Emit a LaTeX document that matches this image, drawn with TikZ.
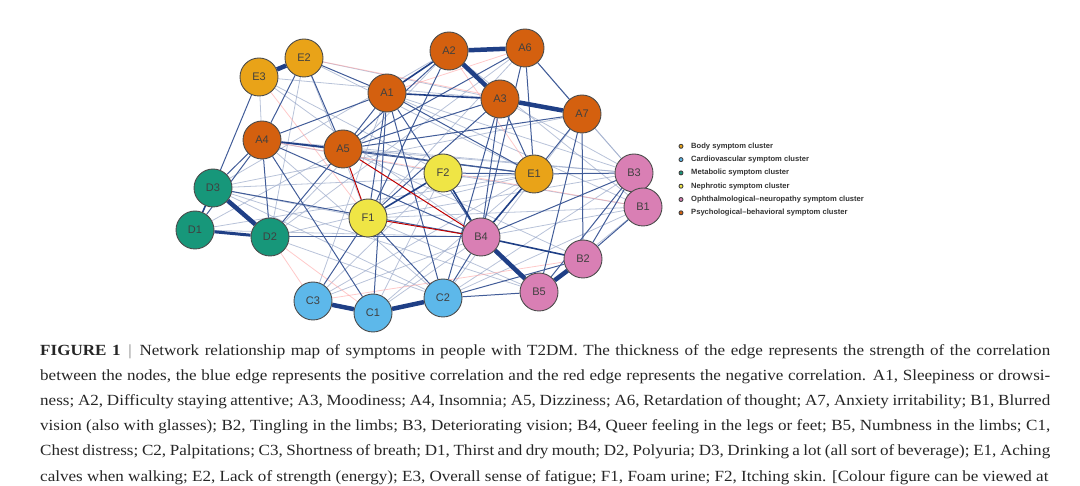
\documentclass[tikz,border=0pt]{standalone}
\usepackage{fontspec}
\setmainfont{Liberation Serif}
\newfontfamily\lsans{Liberation Sans}
\usetikzlibrary{backgrounds}
\definecolor{cA}{HTML}{D4600F}
\definecolor{cB}{HTML}{D97FB4}
\definecolor{cC}{HTML}{5DB8EA}
\definecolor{cD}{HTML}{17977A}
\definecolor{cE}{HTML}{E9A318}
\definecolor{cF}{HTML}{EFE545}
\definecolor{eb}{HTML}{1F3F86}
\tikzset{
 sym/.style={circle,draw=black!70,line width=0.9pt,minimum size=38pt,inner sep=0pt,font=\lsans\fontsize{11}{11}\selectfont,text=black!75},
 thick edge/.style={draw=eb,line width=4.5pt},
 mid edge/.style={draw=eb,line width=1.6pt},
 med edge/.style={draw=eb!85,line width=1pt},
 lt edge/.style={draw=eb!45,line width=0.8pt,opacity=0.7},
 neg edge/.style={draw=red!75!black,line width=1pt},
 ltneg edge/.style={draw=red!35,line width=0.8pt,opacity=0.6},
 leg/.style={anchor=west,font=\lsans\bfseries\fontsize{7.6}{8}\selectfont,text=black!80,inner sep=0pt},
 dot/.style={circle,draw=black!75,line width=0.9pt,minimum size=4pt,inner sep=0pt}
}
\begin{document}
\begin{tikzpicture}[x=1pt,y=-1pt]
\useasboundingbox (0,0) rectangle (1080,486);
\node[sym,fill=cE] (E3) at (259,77) {E3};
\node[sym,fill=cE] (E2) at (304,58) {E2};
\node[sym,fill=cA] (A1) at (387,93) {A1};
\node[sym,fill=cA] (A2) at (449,51) {A2};
\node[sym,fill=cA] (A6) at (525,48) {A6};
\node[sym,fill=cA] (A3) at (500,99) {A3};
\node[sym,fill=cA] (A7) at (582,114) {A7};
\node[sym,fill=cA] (A4) at (262,140) {A4};
\node[sym,fill=cA] (A5) at (343,149) {A5};
\node[sym,fill=cF] (F2) at (443,173) {F2};
\node[sym,fill=cE] (E1) at (534,174) {E1};
\node[sym,fill=cD] (D3) at (213,188) {D3};
\node[sym,fill=cD] (D1) at (195,230) {D1};
\node[sym,fill=cD] (D2) at (270,237) {D2};
\node[sym,fill=cF] (F1) at (368,218) {F1};
\node[sym,fill=cB] (B4) at (481,237) {B4};
\node[sym,fill=cB] (B3) at (634,173) {B3};
\node[sym,fill=cB] (B1) at (643,207) {B1};
\node[sym,fill=cB] (B2) at (583,259) {B2};
\node[sym,fill=cB] (B5) at (539,292) {B5};
\node[sym,fill=cC] (C3) at (313,301) {C3};
\node[sym,fill=cC] (C1) at (373,313) {C1};
\node[sym,fill=cC] (C2) at (443,298) {C2};
\begin{scope}[on background layer]
\foreach \a/\b in {E3/A4,E3/A3,E2/A3,E2/F1,E2/D2,E3/F2,A2/D3,A6/D2,A6/B3,A7/B3,A7/D3,A3/B3,A4/C2,A4/B3,A5/B2,A5/B3,D3/E1,D3/C2,D1/A5,D1/B4,D2/E1,D2/C2,F1/B3,F1/B1,F1/B5,F2/B1,F2/C3,E1/C3,E1/C1,B4/C3,B4/B1,C1/B4,C3/A1,C1/F2,D3/B5,D2/A2,A1/B3,E2/E1,A4/F2,A2/B1,A6/F1,C2/B3,B1/B5,A7/C2,D3/F1,D1/E1,E3/B4,A1/B1,C2/B1}
  \draw[lt edge] (\a) -- (\b);
\foreach \a/\b in {E3/F1,A4/B1,D2/C1,A2/E1,D2/C3,A1/A6,E2/A7,C3/B2}
  \draw[ltneg edge] (\a) -- (\b);
\foreach \a/\b in {A1/E2,A1/A5,A1/F1,A1/C1,A1/C2,A2/F1,A2/A5,A6/A5,A6/A7,A6/B4,A3/E1,A3/B4,A7/E1,A7/B5,A7/B2,A4/D3,A4/D2,A4/E1,A5/E1,F2/E1,E1/B3,B4/C2,B4/D2,B3/B5,B1/B2,D3/B4,F1/C2,C2/B2,C2/B5,E3/D3,A4/C1,A1/A4,E2/A4,A3/A5,D2/A5,A1/B4,F1/C3,A1/E1,A5/A7,A3/F1,B3/B2,D1/A4,A3/C2,A6/E1,E2/A5,A4/B4,B4/B3}
  \draw[med edge] (\a) -- (\b);
\foreach \a/\b in {A1/A3,D3/D1,F1/F2,E1/B4,B4/B2,F2/B4,A1/A2,A4/A5}
  \draw[mid edge] (\a) -- (\b);
\foreach \a/\b in {E3/E2,A2/A6,A2/A3,A3/A7,D3/D2,C3/C1,C1/C2,B5/B2,B4/B5}
  \draw[thick edge] (\a) -- (\b);
\draw[thick edge,line width=3pt] (D1) -- (D2);
\foreach \a/\b in {A5/F1,A5/B4,F1/B4}
  \draw[neg edge] (\a) -- (\b);
\end{scope}
% legend
\foreach \c/\t [count=\i] in {cE/Body symptom cluster,cC/Cardiovascular symptom cluster,cD/Metabolic symptom cluster,cF/Nephrotic symptom cluster,cB/Ophthalmological\textendash neuropathy symptom cluster,cA/Psychological\textendash behavioral symptom cluster}{
  \node[dot,fill=\c] (d\i) at (681,133+13.3*\i) {};
  \node[leg] (l\i) at (691,133+13.3*\i) {\t};
}
% caption
\node[anchor=north west,inner sep=0pt] (cap) at (40,344) {\parbox{1010pt}{\fontsize{15.5}{25.2}\addfontfeature{FakeStretch=1.1}\selectfont\color{black!85}
\textbf{FIGURE 1}\enspace{\color{black!50}|}\enspace Network relationship map of symptoms in people with T2DM. The thickness of the edge represents the strength of the correlation\linebreak
between the nodes, the blue edge represents the positive correlation and the red edge represents the negative correlation. A1, Sleepiness or drowsi-\linebreak
ness; A2, Difficulty staying attentive; A3, Moodiness; A4, Insomnia; A5, Dizziness; A6, Retardation of thought; A7, Anxiety irritability; B1, Blurred\linebreak
vision (also with glasses); B2, Tingling in the limbs; B3, Deteriorating vision; B4, Queer feeling in the legs or feet; B5, Numbness in the limbs; C1,\linebreak
Chest distress; C2, Palpitations; C3, Shortness of breath; D1, Thirst and dry mouth; D2, Polyuria; D3, Drinking a lot (all sort of beverage); E1, Aching\linebreak
calves when walking; E2, Lack of strength (energy); E3, Overall sense of fatigue; F1, Foam urine; F2, Itching skin. [Colour figure can be viewed at}};
\end{tikzpicture}
\end{document}
